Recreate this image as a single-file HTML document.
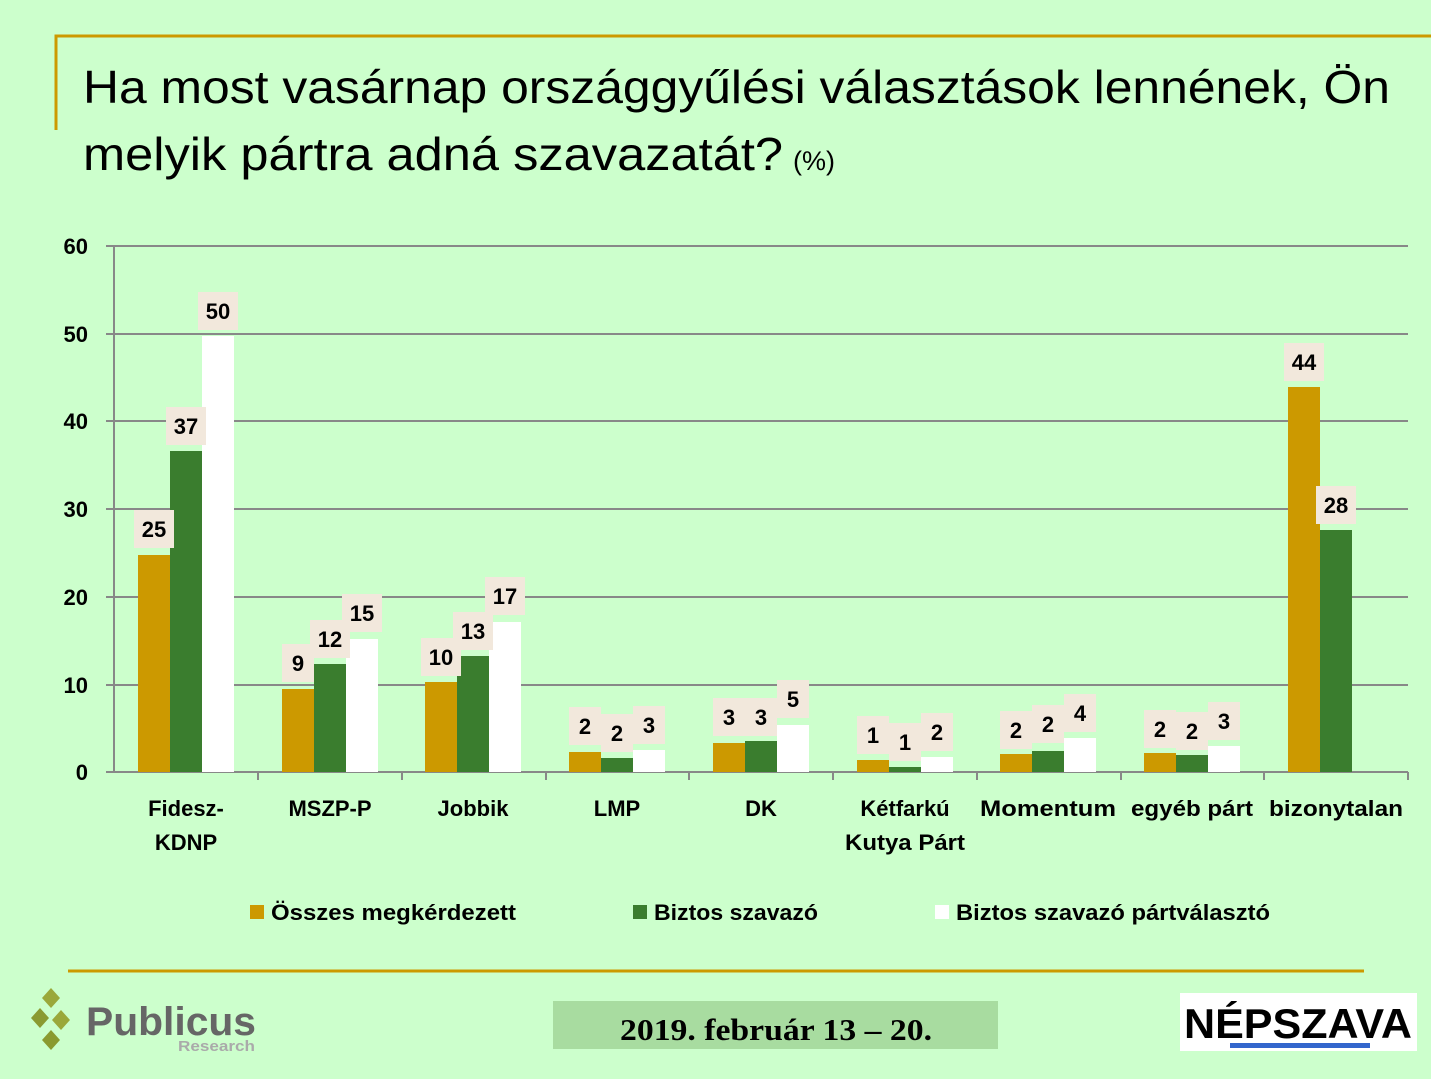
<!DOCTYPE html>
<html><head><meta charset="utf-8"><style>
html,body{margin:0;padding:0;background:#ccffcc;}
svg{display:block;font-family:"Liberation Sans",sans-serif;}
</style></head><body>
<svg width="1431" height="1079" viewBox="0 0 1431 1079" xmlns="http://www.w3.org/2000/svg">
<rect width="1431" height="1079" fill="#ccffcc"/>
<path d="M56 130 V36 H1431" fill="none" stroke="#cc9900" stroke-width="3"/>
<text x="83" y="103" font-size="46" textLength="1307" lengthAdjust="spacingAndGlyphs">Ha most vasárnap országgyűlési választások lennének, Ön</text>
<text x="83" y="170" font-size="46" textLength="700" lengthAdjust="spacingAndGlyphs">melyik pártra adná szavazatát?</text>
<text x="793" y="170" font-size="27">(%)</text>
<g stroke="#888" stroke-width="2">
<line x1="106" y1="246" x2="1408" y2="246"/><line x1="106" y1="334" x2="1408" y2="334"/>
<line x1="106" y1="421" x2="1408" y2="421"/><line x1="106" y1="509" x2="1408" y2="509"/>
<line x1="106" y1="597" x2="1408" y2="597"/><line x1="106" y1="685" x2="1408" y2="685"/>
<line x1="106" y1="772" x2="1408" y2="772"/><line x1="114" y1="246" x2="114" y2="772"/>
<line x1="258" y1="772" x2="258" y2="780"/><line x1="402" y1="772" x2="402" y2="780"/>
<line x1="546" y1="772" x2="546" y2="780"/><line x1="689" y1="772" x2="689" y2="780"/>
<line x1="833" y1="772" x2="833" y2="780"/><line x1="977" y1="772" x2="977" y2="780"/>
<line x1="1121" y1="772" x2="1121" y2="780"/><line x1="1264" y1="772" x2="1264" y2="780"/>
<line x1="1408" y1="772" x2="1408" y2="780"/>
</g>
<g font-size="22" font-weight="bold" text-anchor="end">
<text x="88" y="254">60</text><text x="88" y="342">50</text><text x="88" y="429">40</text>
<text x="88" y="517">30</text><text x="88" y="605">20</text><text x="88" y="693">10</text><text x="88" y="780">0</text>
</g>
<g>
<rect x="138" y="555" width="32" height="217" fill="#cc9900"/><rect x="170" y="451" width="32" height="321" fill="#3a7d2e"/><rect x="202" y="336" width="32" height="436" fill="#fff"/>
<rect x="282" y="689" width="32" height="83" fill="#cc9900"/><rect x="314" y="664" width="32" height="108" fill="#3a7d2e"/><rect x="346" y="639" width="32" height="133" fill="#fff"/>
<rect x="425" y="682" width="32" height="90" fill="#cc9900"/><rect x="457" y="656" width="32" height="116" fill="#3a7d2e"/><rect x="489" y="622" width="32" height="150" fill="#fff"/>
<rect x="569" y="752" width="32" height="20" fill="#cc9900"/><rect x="601" y="758" width="32" height="14" fill="#3a7d2e"/><rect x="633" y="750" width="32" height="22" fill="#fff"/>
<rect x="713" y="743" width="32" height="29" fill="#cc9900"/><rect x="745" y="741" width="32" height="31" fill="#3a7d2e"/><rect x="777" y="725" width="32" height="47" fill="#fff"/>
<rect x="857" y="760" width="32" height="12" fill="#cc9900"/><rect x="889" y="767" width="32" height="5" fill="#3a7d2e"/><rect x="921" y="757" width="32" height="15" fill="#fff"/>
<rect x="1000" y="754" width="32" height="18" fill="#cc9900"/><rect x="1032" y="751" width="32" height="21" fill="#3a7d2e"/><rect x="1064" y="738" width="32" height="34" fill="#fff"/>
<rect x="1144" y="753" width="32" height="19" fill="#cc9900"/><rect x="1176" y="755" width="32" height="17" fill="#3a7d2e"/><rect x="1208" y="746" width="32" height="26" fill="#fff"/>
<rect x="1288" y="387" width="32" height="385" fill="#cc9900"/><rect x="1320" y="530" width="32" height="242" fill="#3a7d2e"/>
</g>
<g font-size="22" font-weight="bold" text-anchor="middle">
<g fill="#f2e8dc">
<rect x="134" y="510" width="40" height="38"/><rect x="166" y="407" width="40" height="38"/><rect x="198" y="292" width="40" height="38"/>
<rect x="282" y="644" width="32" height="38"/><rect x="310" y="620" width="40" height="38"/><rect x="342" y="594" width="40" height="38"/>
<rect x="421" y="638" width="40" height="38"/><rect x="453" y="612" width="40" height="38"/><rect x="485" y="577" width="40" height="38"/>
<rect x="569" y="707" width="32" height="38"/><rect x="601" y="714" width="32" height="38"/><rect x="633" y="706" width="32" height="38"/>
<rect x="713" y="698" width="32" height="38"/><rect x="745" y="698" width="32" height="38"/><rect x="777" y="680" width="32" height="38"/>
<rect x="857" y="716" width="32" height="38"/><rect x="889" y="723" width="32" height="38"/><rect x="921" y="713" width="32" height="38"/>
<rect x="1000" y="711" width="32" height="38"/><rect x="1032" y="705" width="32" height="38"/><rect x="1064" y="694" width="32" height="38"/>
<rect x="1144" y="710" width="32" height="38"/><rect x="1176" y="712" width="32" height="38"/><rect x="1208" y="702" width="32" height="38"/>
<rect x="1284" y="343" width="40" height="38"/><rect x="1316" y="486" width="40" height="38"/>
</g>
<text x="154" y="537">25</text><text x="186" y="434">37</text><text x="218" y="319">50</text>
<text x="298" y="671">9</text><text x="330" y="647">12</text><text x="362" y="621">15</text>
<text x="441" y="665">10</text><text x="473" y="639">13</text><text x="505" y="604">17</text>
<text x="585" y="734">2</text><text x="617" y="741">2</text><text x="649" y="733">3</text>
<text x="729" y="725">3</text><text x="761" y="725">3</text><text x="793" y="707">5</text>
<text x="873" y="743">1</text><text x="905" y="750">1</text><text x="937" y="740">2</text>
<text x="1016" y="738">2</text><text x="1048" y="732">2</text><text x="1080" y="721">4</text>
<text x="1160" y="737">2</text><text x="1192" y="739">2</text><text x="1224" y="729">3</text>
<text x="1304" y="370">44</text><text x="1336" y="513">28</text>
</g>
<g font-size="22" font-weight="bold" text-anchor="middle">
<text x="186" y="816">Fidesz-</text><text x="186" y="850">KDNP</text>
<text x="330" y="816">MSZP-P</text><text x="473" y="816">Jobbik</text>
<text x="617" y="816">LMP</text><text x="761" y="816">DK</text>
<text x="905" y="816">Kétfarkú</text><text x="905" y="850" textLength="120" lengthAdjust="spacingAndGlyphs">Kutya Párt</text>
<text x="1048" y="816" textLength="136" lengthAdjust="spacingAndGlyphs">Momentum</text><text x="1192" y="816" textLength="122" lengthAdjust="spacingAndGlyphs">egyéb párt</text><text x="1336" y="816" textLength="134" lengthAdjust="spacingAndGlyphs">bizonytalan</text>
</g>
<g font-size="22" font-weight="bold">
<rect x="250" y="905" width="14" height="14" fill="#cc9900"/><text x="271" y="920" textLength="245" lengthAdjust="spacingAndGlyphs">Összes megkérdezett</text>
<rect x="633" y="905" width="14" height="14" fill="#3a7d2e"/><text x="654" y="920" textLength="164" lengthAdjust="spacingAndGlyphs">Biztos szavazó</text>
<rect x="935" y="905" width="14" height="14" fill="#fff"/><text x="956" y="920" textLength="314" lengthAdjust="spacingAndGlyphs">Biztos szavazó pártválasztó</text>
</g>
<line x1="68" y1="971" x2="1364" y2="971" stroke="#cc9900" stroke-width="3"/>
<g>
<polygon points="51,988 60,998 51,1008 42,998" fill="#9aa83a"/>
<polygon points="40,1008 49,1018 40,1028 31,1018" fill="#8a9a30"/>
<polygon points="61,1010 70,1020 61,1030 52,1020" fill="#9aa83a"/>
<polygon points="51,1030 60,1040 51,1050 42,1040" fill="#8a9a30"/>
<text x="86" y="1035" font-size="40" font-weight="bold" fill="#666" textLength="170" lengthAdjust="spacingAndGlyphs">Publicus</text>
<text x="178" y="1051" font-size="15" font-weight="bold" fill="#aaa" textLength="77" lengthAdjust="spacingAndGlyphs">Research</text>
</g>
<rect x="553" y="1001" width="445" height="48" fill="#a8dca0"/>
<text x="620" y="1040" font-family="Liberation Serif,serif" font-size="31" font-weight="bold" textLength="312" lengthAdjust="spacingAndGlyphs">2019. február 13 – 20.</text>
<rect x="1180" y="993" width="237" height="58" fill="#fff"/>
<text x="1298" y="1038" font-size="42" font-weight="bold" text-anchor="middle" textLength="228" lengthAdjust="spacingAndGlyphs">NÉPSZAVA</text>
<rect x="1230" y="1043" width="140" height="5" fill="#3366cc"/>
</svg>
</body></html>
